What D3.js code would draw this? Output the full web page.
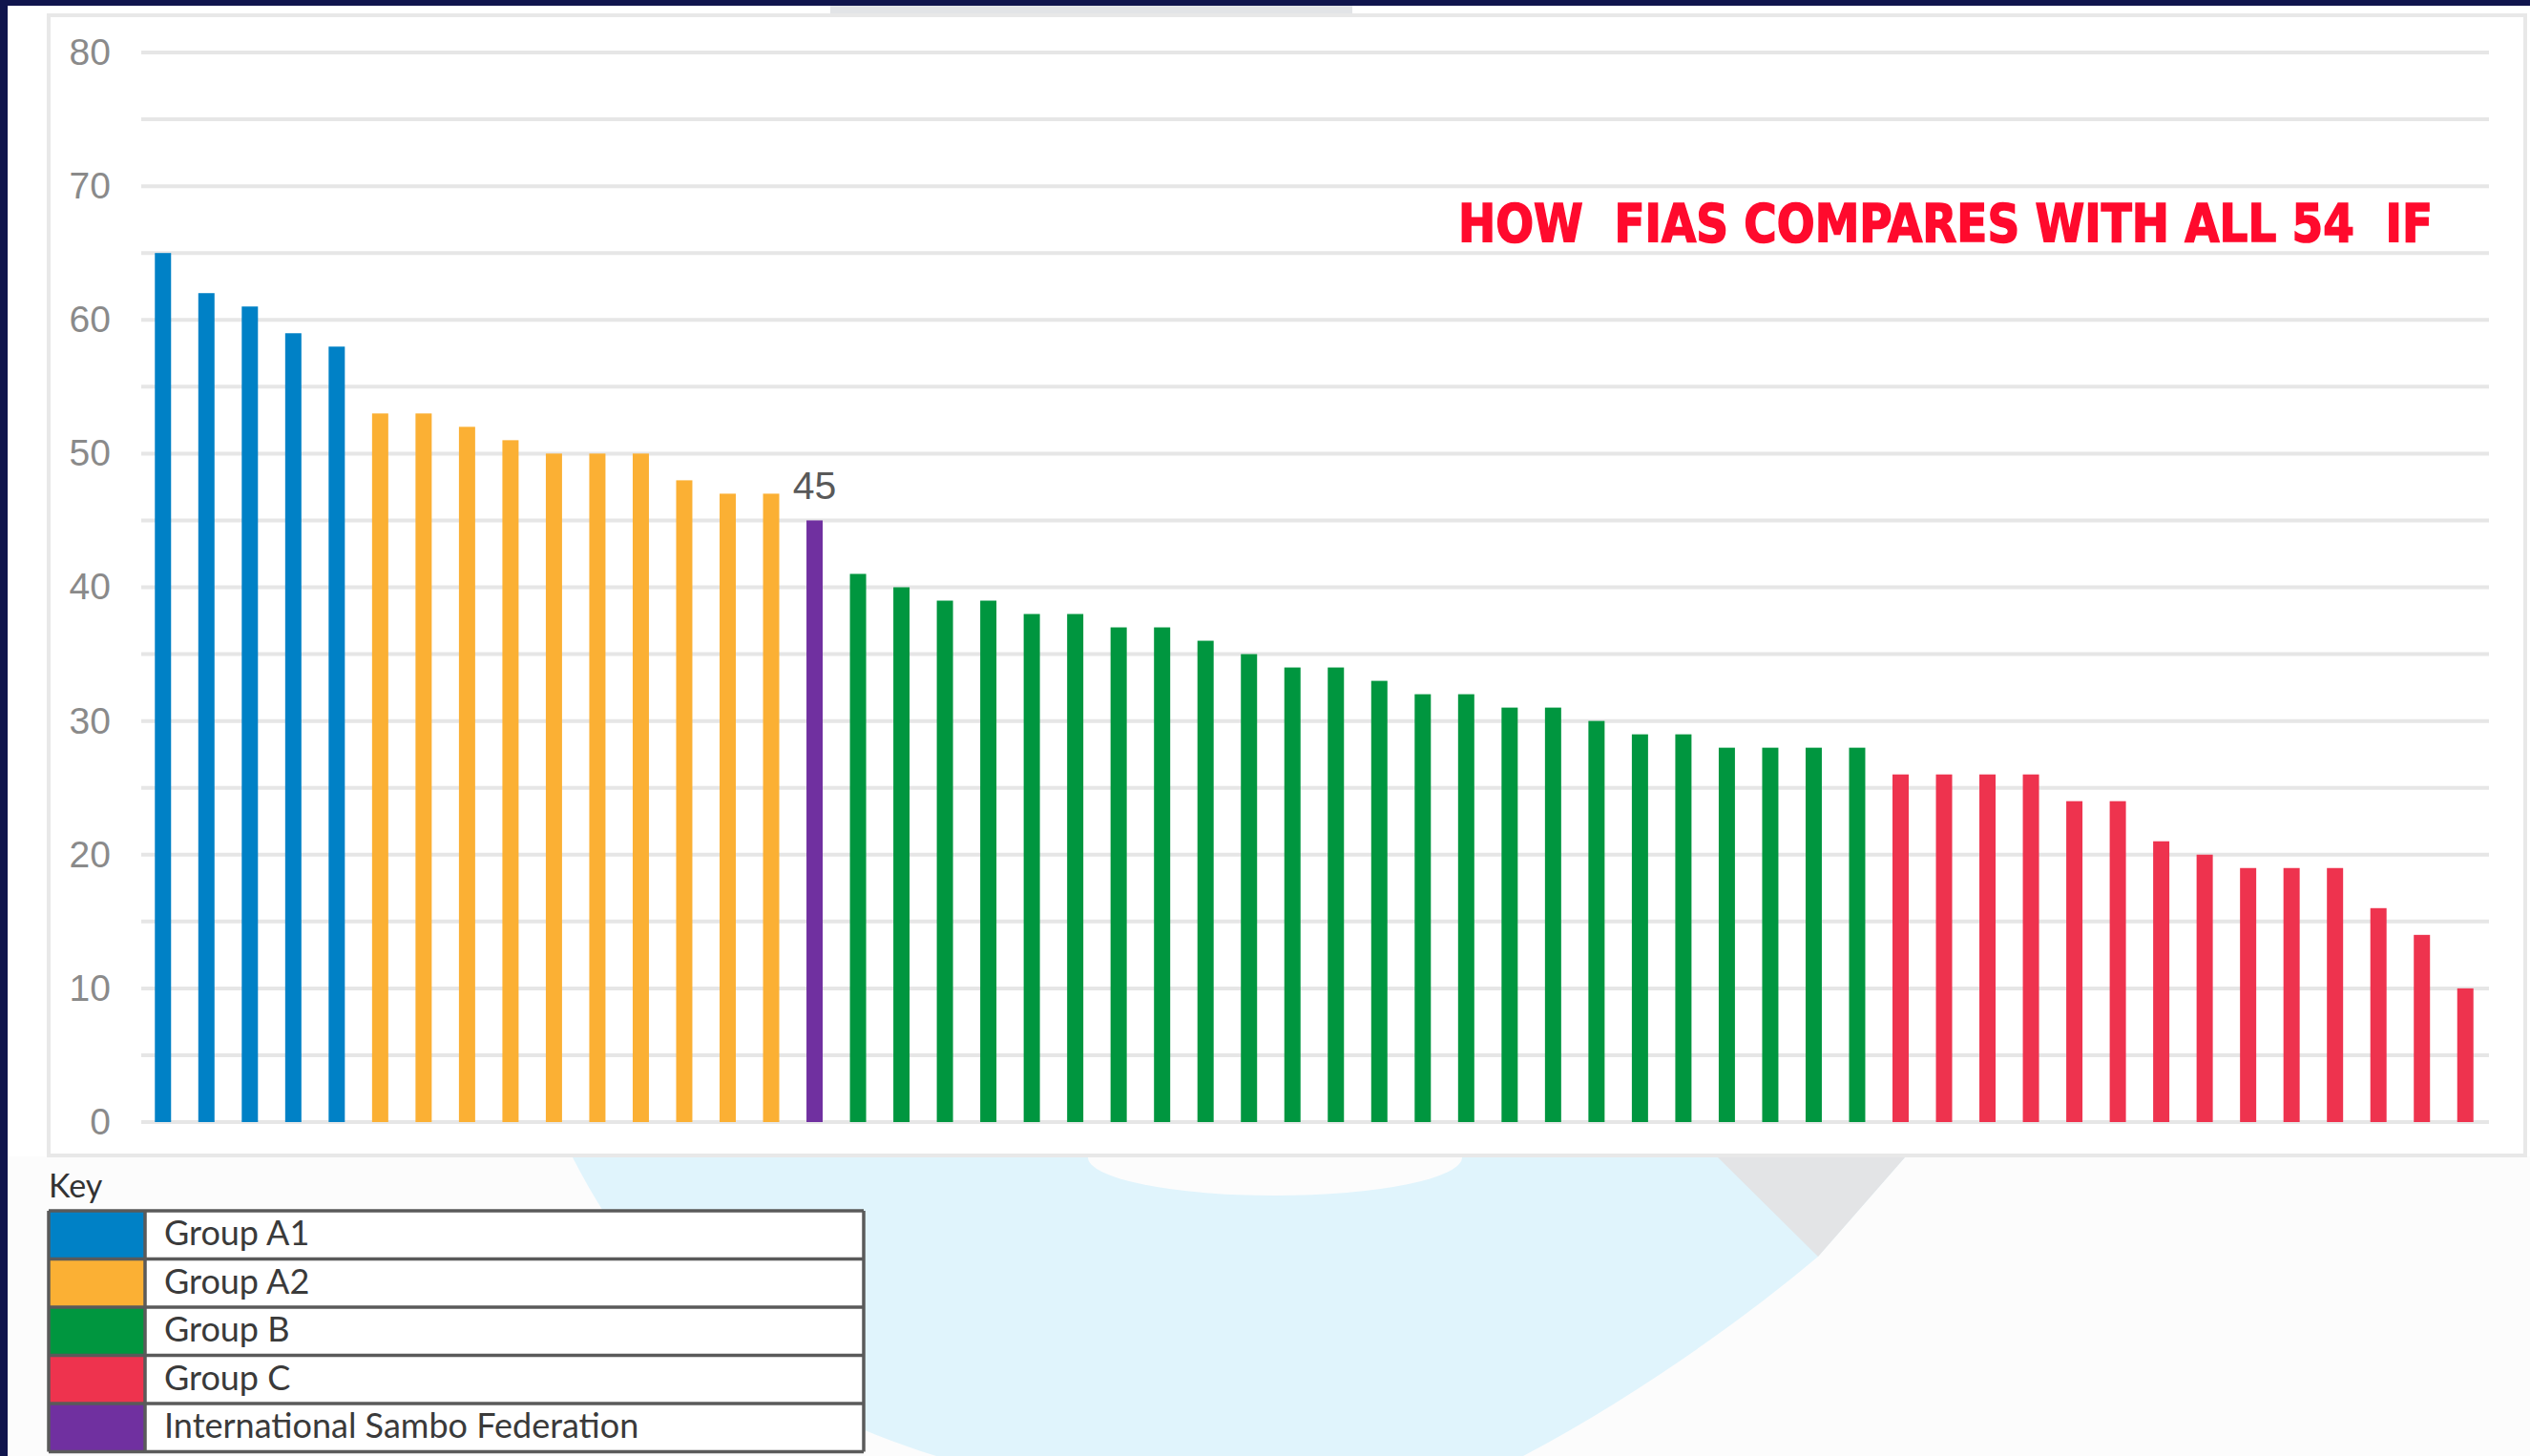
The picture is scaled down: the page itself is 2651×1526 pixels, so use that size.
<!DOCTYPE html>
<html>
<head>
<meta charset="utf-8">
<script src="https://cdn.jsdelivr.net/npm/d3@7"></script>
<style>
  body { margin: 0; background: #fcfcfc; }
  svg { display: block; }
</style>
</head>
<body>
<div id="chart"></div>
<script>
// scores, sorted as in the original ranking
const groupNames = ["Group A1", "Group A2", "Group B", "Group C", "International Sambo Federation"];
const groupColors = ["#0081c6", "#fbb034", "#00963f", "#ee334e", "#7030a0"];
const scoresA1 = [65, 62, 61, 59, 58];
const scoresA2 = [53, 53, 52, 51, 50, 50, 50, 48, 47, 47];
const scoresFIAS = [45];
const scoresB = [41, 40, 39, 39, 38, 38, 37, 37, 36, 35, 34, 34, 33, 32, 32, 31, 31, 30, 29, 29, 28, 28, 28, 28];
const scoresC = [26, 26, 26, 26, 24, 24, 21, 20, 19, 19, 19, 16, 14, 10];
const yTicks = [0, 10, 20, 30, 40, 50, 60, 70, 80];
const gridValues = d3.range(0, 81, 5);
const titleText = "HOW  FIAS COMPARES WITH ALL 54  IF";

const width = 2651;
const height = 1526;

const bars = [].concat(
    scoresA1.map(v => ({ value: v, group: "Group A1" })),
    scoresA2.map(v => ({ value: v, group: "Group A2" })),
    scoresFIAS.map(v => ({ value: v, group: "International Sambo Federation", label: true })),
    scoresB.map(v => ({ value: v, group: "Group B" })),
    scoresC.map(v => ({ value: v, group: "Group C" }))
);
bars.forEach((d, i) => d.index = i);

const color = d3.scaleOrdinal().domain(groupNames).range(groupColors);

const svg = d3.select("#chart")
    .append("svg")
    .attr("width", width)
    .attr("height", height)
    .attr("viewBox", `0 0 ${width} ${height}`);

// page background and decoration below the chart
svg.append("rect").attr("width", width).attr("height", height).attr("fill", "#fcfcfc");

svg.append("path")
    .attr("d", "M600,1213 C680,1370 800,1470 981,1526 L1596,1526 C1720,1460 1830,1380 1905,1317 L1996,1213 Z")
    .attr("fill", "#e0f4fc");
svg.append("ellipse")
    .attr("cx", 1336).attr("cy", 1213).attr("rx", 196).attr("ry", 40)
    .attr("fill", "#fcfcfc");
svg.append("path")
    .attr("d", "M1800,1213 L1996,1213 L1905,1317 Z")
    .attr("fill", "#e3e4e6");

// white chart panel
svg.append("rect")
    .attr("x", 8).attr("y", 6).attr("width", width - 8).attr("height", 1206)
    .attr("fill", "#ffffff");
svg.append("rect")
    .attr("x", 870).attr("y", 6).attr("width", 547).attr("height", 9)
    .attr("fill", "#e2e4e7");
svg.append("rect")
    .attr("x", 51).attr("y", 16).attr("width", 2595).attr("height", 1195)
    .attr("fill", "#ffffff")
    .attr("stroke", "#e8e8e8")
    .attr("stroke-width", 4);

// navy frame
svg.append("rect").attr("x", 0).attr("y", 0).attr("width", width).attr("height", 6).attr("fill", "#10154d");
svg.append("rect").attr("x", 0).attr("y", 0).attr("width", 8).attr("height", height).attr("fill", "#10154d");

const x = d3.scaleBand()
    .domain(bars.map(d => d.index))
    .range([148, 2606])
    .paddingInner(0.627)
    .paddingOuter(0.3135);

const y = d3.scaleLinear()
    .domain([0, 80])
    .range([1176, 55]);

// grid lines
svg.append("g")
    .selectAll("line")
    .data(gridValues)
    .enter()
    .append("line")
    .attr("x1", 148)
    .attr("x2", 2608)
    .attr("y1", d => y(d))
    .attr("y2", d => y(d))
    .attr("stroke", "#e6e6e6")
    .attr("stroke-width", 4);

// y axis labels
const yAxis = d3.axisLeft(y).tickValues(yTicks).tickSize(0).tickPadding(0);
const yAxisG = svg.append("g")
    .attr("transform", "translate(116,0)")
    .call(yAxis);
yAxisG.select(".domain").remove();
yAxisG.selectAll("text")
    .attr("fill", "#8a8a8a")
    .attr("font-family", "'Liberation Sans', Arial, sans-serif")
    .attr("font-size", 39);

// bars
svg.append("g")
    .selectAll("rect")
    .data(bars)
    .enter()
    .append("rect")
    .attr("x", d => x(d.index))
    .attr("y", d => y(d.value))
    .attr("width", x.bandwidth())
    .attr("height", d => y(0) - y(d.value))
    .attr("fill", d => color(d.group));

// value label on the FIAS bar
svg.append("g")
    .selectAll("text")
    .data(bars.filter(d => d.label))
    .enter()
    .append("text")
    .attr("x", d => x(d.index) + x.bandwidth() / 2)
    .attr("y", d => y(d.value) - 22)
    .attr("text-anchor", "middle")
    .attr("fill", "#595959")
    .attr("font-family", "'Liberation Sans', Arial, sans-serif")
    .attr("font-size", 41)
    .text(d => d.value);

// title
svg.append("text")
    .attr("x", 1528)
    .attr("y", 253)
    .attr("xml:space", "preserve")
    .style("white-space", "pre")
    .attr("textLength", 1021)
    .attr("lengthAdjust", "spacingAndGlyphs")
    .attr("fill", "#ff0a2d")
    .attr("stroke", "#ff0a2d")
    .attr("stroke-width", 1.5)
    .attr("font-family", "'Liberation Sans Narrow', 'DejaVu Sans Condensed', sans-serif")
    .attr("font-weight", "bold")
    .attr("font-size", 56)
    .text(titleText);

// legend ("Key")
const legendX = 51, legendTop = 1269, rowH = 50.5, swatchW = 101, legendW = 854;
svg.append("text")
    .attr("x", 51)
    .attr("y", 1255)
    .attr("fill", "#333")
    .attr("font-family", "Lato, 'Open Sans', sans-serif")
    .attr("font-size", 34)
    .text("Key");

const legendOrder = ["Group A1", "Group A2", "Group B", "Group C", "International Sambo Federation"];
const rows = svg.append("g")
    .selectAll("g")
    .data(legendOrder)
    .enter()
    .append("g")
    .attr("transform", (d, i) => `translate(${legendX},${legendTop + i * rowH})`);

rows.append("rect")
    .attr("width", legendW)
    .attr("height", rowH)
    .attr("fill", "#ffffff");
rows.append("rect")
    .attr("width", swatchW)
    .attr("height", rowH)
    .attr("fill", d => color(d));
rows.append("text")
    .attr("x", 121)
    .attr("y", 36)
    .attr("fill", "#3a3a3a")
    .attr("font-family", "Lato, 'Open Sans', sans-serif")
    .attr("font-size", 36)
    .text(d => d);

const legendLines = svg.append("g")
    .attr("stroke", "#5a5a5a")
    .attr("stroke-width", 3.5)
    .attr("fill", "none");
legendLines.selectAll("line.h")
    .data(d3.range(legendOrder.length + 1))
    .enter()
    .append("line")
    .attr("class", "h")
    .attr("x1", legendX)
    .attr("x2", legendX + legendW)
    .attr("y1", i => legendTop + i * rowH)
    .attr("y2", i => legendTop + i * rowH);
legendLines.selectAll("line.v")
    .data([legendX, legendX + swatchW, legendX + legendW])
    .enter()
    .append("line")
    .attr("class", "v")
    .attr("x1", d => d)
    .attr("x2", d => d)
    .attr("y1", legendTop)
    .attr("y2", legendTop + legendOrder.length * rowH);
</script>
</body>
</html>
